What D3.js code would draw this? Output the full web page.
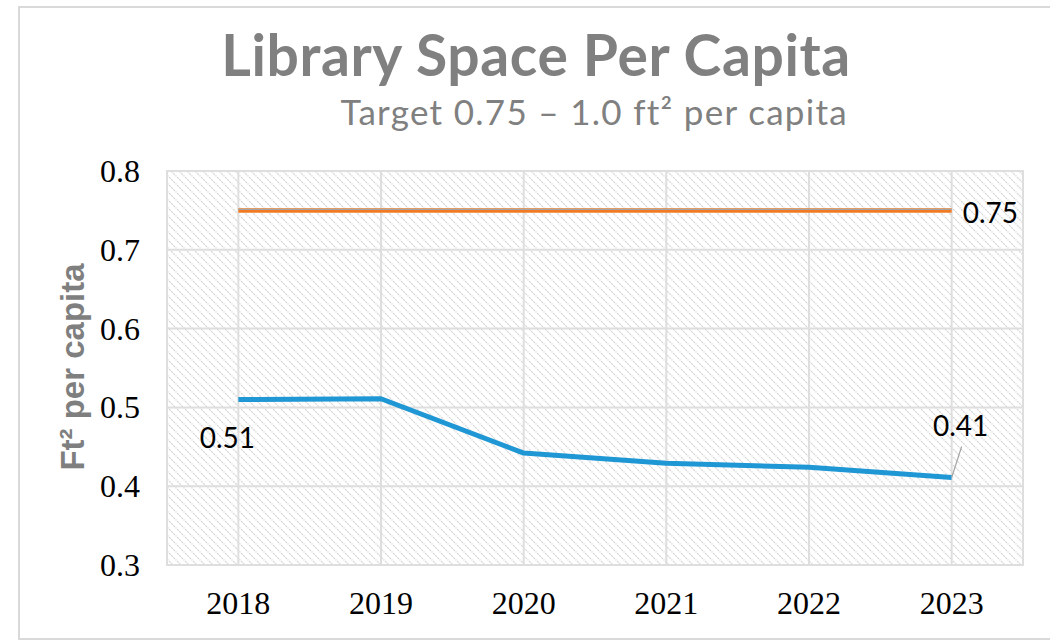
<!DOCTYPE html>
<html>
<head>
<meta charset="utf-8">
<script src="https://cdn.jsdelivr.net/npm/d3@7"></script>
<style>
  body { margin: 0; background: #fff; }
  svg { display: block; }
</style>
</head>
<body>
<div id="chart"></div>
<script>
var years = ['2018', '2019', '2020', '2021', '2022', '2023'];
var spacePerCapita = [0.510, 0.511, 0.442, 0.429, 0.424, 0.411];
var targetValues = [0.75, 0.75, 0.75, 0.75, 0.75, 0.75];
var yTicks = [0.3, 0.4, 0.5, 0.6, 0.7, 0.8];

function setup() {
  var W = 1050, H = 640;
  var plot = {left: 167, right: 1023, top: 171, bottom: 565};

  var svg = d3.select('#chart').append('svg')
    .attr('width', W)
    .attr('height', H);

  // hatch fill for the plot area
  var pat = svg.append('defs').append('pattern')
    .attr('id', 'hatch')
    .attr('patternUnits', 'userSpaceOnUse')
    .attr('width', 8)
    .attr('height', 8);
  pat.append('rect').attr('width', 8).attr('height', 8).attr('fill', '#fff');
  pat.append('path')
    .attr('d', 'M-1,-1 L9,9 M-1,7 L1,9 M7,-1 L9,1')
    .attr('stroke', '#d6d6d6')
    .attr('stroke-width', 1.3)
    .attr('stroke-dasharray', '2,1');

  // outer chart border
  svg.append('rect')
    .attr('x', 19).attr('y', 7)
    .attr('width', 1045).attr('height', 632)
    .attr('fill', 'none')
    .attr('stroke', '#d9d9d9')
    .attr('stroke-width', 2);

  var x = d3.scaleBand().domain(years).range([plot.left, plot.right]);
  var y = d3.scaleLinear().domain([0.3, 0.8]).range([plot.bottom, plot.top]);
  var cx = function(d) { return x(d) + x.bandwidth() / 2; };

  svg.append('rect')
    .attr('x', plot.left).attr('y', plot.top)
    .attr('width', plot.right - plot.left)
    .attr('height', plot.bottom - plot.top)
    .attr('fill', 'url(#hatch)');

  // gridlines
  svg.append('g').selectAll('line')
    .data(yTicks)
    .enter().append('line')
    .attr('x1', plot.left).attr('x2', plot.right)
    .attr('y1', function(d) { return y(d); })
    .attr('y2', function(d) { return y(d); })
    .attr('stroke', '#dedede')
    .attr('stroke-width', 2);

  svg.append('g').selectAll('line')
    .data(years)
    .enter().append('line')
    .attr('x1', cx).attr('x2', cx)
    .attr('y1', plot.top).attr('y2', plot.bottom)
    .attr('stroke', '#dedede')
    .attr('stroke-width', 2);

  svg.append('rect')
    .attr('x', plot.left).attr('y', plot.top)
    .attr('width', plot.right - plot.left)
    .attr('height', plot.bottom - plot.top)
    .attr('fill', 'none')
    .attr('stroke', '#dedede')
    .attr('stroke-width', 2);

  // axes
  var yAxis = svg.append('g')
    .attr('transform', 'translate(' + (plot.left - 27) + ',0)')
    .call(d3.axisLeft(y).tickValues(yTicks).tickFormat(d3.format('.1f')).tickSize(0).tickPadding(0));
  yAxis.select('.domain').remove();
  yAxis.selectAll('text')
    .attr('font-family', 'Liberation Serif, serif')
    .attr('font-size', 32)
    .attr('fill', '#000')
    .attr('dy', '0.33em');

  var xAxis = svg.append('g')
    .attr('transform', 'translate(0,' + plot.bottom + ')')
    .call(d3.axisBottom(x).tickSize(0).tickPadding(0));
  xAxis.select('.domain').remove();
  xAxis.selectAll('text')
    .attr('font-family', 'Liberation Serif, serif')
    .attr('font-size', 32)
    .attr('fill', '#000')
    .attr('dy', null)
    .attr('y', 49);

  // target line
  var line = d3.line()
    .x(function(d, i) { return cx(years[i]); })
    .y(function(d) { return y(d); });

  svg.append('path')
    .datum(targetValues)
    .attr('d', line)
    .attr('fill', 'none')
    .attr('stroke', '#F07B22')
    .attr('stroke-width', 4.5);
  svg.append('path')
    .datum(targetValues)
    .attr('d', line)
    .attr('transform', 'translate(0,-1)')
    .attr('fill', 'none')
    .attr('stroke', '#a5a5a5')
    .attr('stroke-width', 1.1);

  svg.append('path')
    .datum(spacePerCapita)
    .attr('d', line)
    .attr('fill', 'none')
    .attr('stroke', '#1F97D4')
    .attr('stroke-width', 5)
    .attr('stroke-linejoin', 'round');

  // data labels
  var labelFont = 'Lato, Open Sans, sans-serif';
  svg.append('text')
    .attr('x', cx(years[5]) + 11)
    .attr('y', y(targetValues[5]) + 13)
    .attr('font-family', labelFont)
    .attr('font-size', 28)
    .attr('fill', '#000')
    .text(d3.format('.2f')(targetValues[5]));

  svg.append('text')
    .attr('x', cx(years[0]) - 11)
    .attr('y', y(spacePerCapita[0]) + 48)
    .attr('text-anchor', 'middle')
    .attr('font-family', labelFont)
    .attr('font-size', 28)
    .attr('fill', '#000')
    .text(d3.format('.2f')(spacePerCapita[0]));

  var lx = cx(years[5]), ly = y(spacePerCapita[5]);
  svg.append('line')
    .attr('x1', lx).attr('y1', ly)
    .attr('x2', lx + 10).attr('y2', ly - 31)
    .attr('stroke', '#a6a6a6')
    .attr('stroke-width', 1.2);
  svg.append('text')
    .attr('x', lx + 9)
    .attr('y', ly - 42)
    .attr('text-anchor', 'middle')
    .attr('font-family', labelFont)
    .attr('font-size', 28)
    .attr('fill', '#000')
    .text(d3.format('.2f')(spacePerCapita[5]));

  // titles
  svg.append('text')
    .attr('x', 536)
    .attr('y', 76)
    .attr('text-anchor', 'middle')
    .attr('font-family', 'Lato, sans-serif')
    .attr('font-weight', 'bold')
    .attr('font-size', 57)
    .attr('letter-spacing', 0.6)
    .attr('fill', '#808080')
    .text('Library Space Per Capita');

  svg.append('text')
    .attr('x', 848)
    .attr('y', 125)
    .attr('text-anchor', 'end')
    .attr('font-family', 'Lato, sans-serif')
    .attr('font-size', 35)
    .attr('letter-spacing', 1.3)
    .attr('fill', '#808080')
    .text('Target 0.75 – 1.0 ft² per capita');

  svg.append('text')
    .attr('transform', 'translate(84,' + (y(0.55) - 1) + ') rotate(-90)')
    .attr('text-anchor', 'middle')
    .attr('font-family', 'Liberation Sans, Arial, sans-serif')
    .attr('font-weight', 'bold')
    .attr('font-size', 33)
    .attr('fill', '#7f7f7f')
    .text('Ft² per capita');
}

window.addEventListener('load', setup);
</script>
</body>
</html>
